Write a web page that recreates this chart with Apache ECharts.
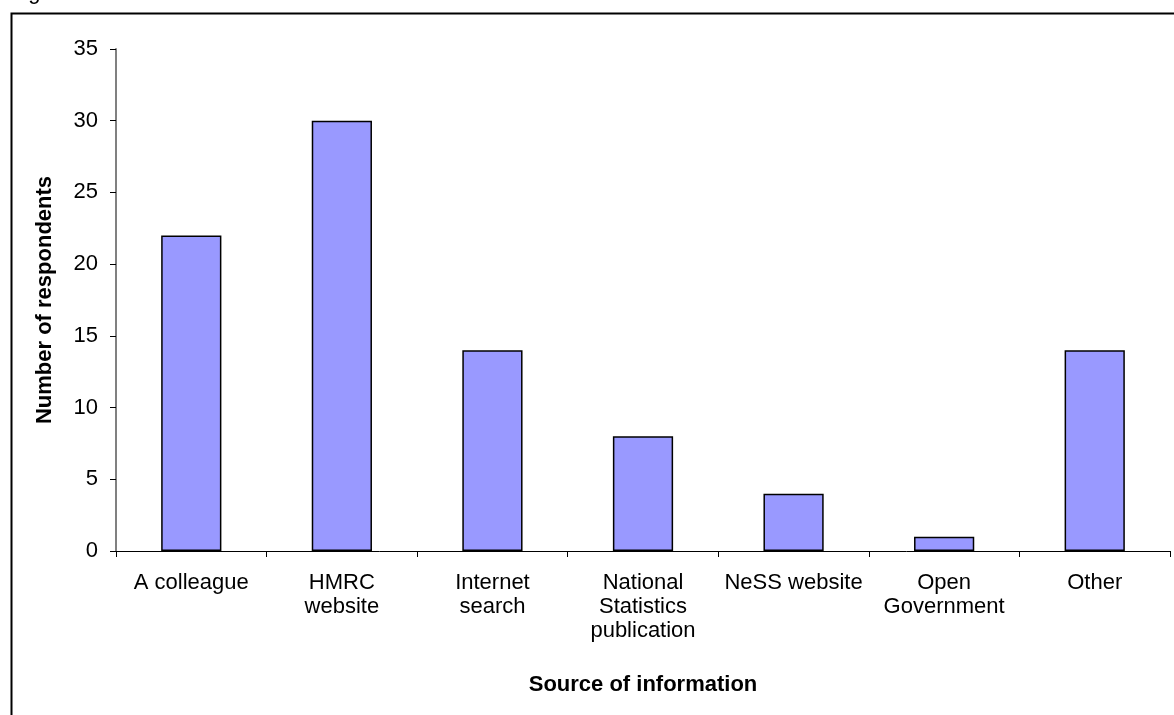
<!DOCTYPE html>
<html><head><meta charset="utf-8">
<script src="https://cdn.jsdelivr.net/npm/echarts@6/dist/echarts.min.js"></script>
<style>html,body{margin:0;padding:0;background:#fff}#c{width:1174px;height:715px}</style>
</head><body><div id="c"></div>
<script>
const categories = ["A colleague", "HMRC\nwebsite", "Internet\nsearch", "National\nStatistics\npublication", "NeSS website", "Open\nGovernment", "Other"];
const respondents = [22, 30, 14, 8, 4, 1, 14];
const yTicks = [0, 5, 10, 15, 20, 25, 30, 35];

const chart = echarts.init(document.getElementById('c'), null, {renderer: 'canvas'});
const font = 'Arial, "Liberation Sans", sans-serif';
chart.setOption({
  animation: false,
  backgroundColor: '#fff',
  graphic: [
    {type: 'rect', shape: {x: 11.5, y: 13.5, width: 1200, height: 800}, style: {fill: 'none', stroke: '#000', lineWidth: 2}, z: 0},
    {type: 'text', left: 10, top: -18, style: {text: 'Figure', font: '22px ' + font, fill: '#000'}}
  ],
  grid: {left: 116, right: 4, top: 49, bottom: 164, containLabel: false},
  xAxis: {
    type: 'category', data: categories,
    name: 'Source of information', nameLocation: 'middle', nameGap: 123,
    nameTextStyle: {fontFamily: font, fontSize: 22, fontWeight: 'bold', color: '#000'},
    axisLine: {lineStyle: {color: '#000', width: 1}},
    axisTick: {show: true, length: 6, inside: false, lineStyle: {color: '#000'}},
    axisLabel: {fontFamily: font, fontSize: 22, color: '#000', margin: 20, lineHeight: 24, interval: 0}
  },
  yAxis: {
    type: 'value', min: 0, max: 35, interval: 5,
    name: 'Number of respondents', nameLocation: 'middle', nameGap: 60,
    nameTextStyle: {fontFamily: font, fontSize: 22, fontWeight: 'bold', color: '#000'},
    axisLine: {show: true, lineStyle: {color: '#808080', width: 2}},
    axisTick: {show: true, length: 6, lineStyle: {color: '#000'}},
    splitLine: {show: false},
    axisLabel: {fontFamily: font, fontSize: 22, color: '#000', margin: 18,
      formatter: v => yTicks.includes(v) ? String(v) : ''}
  },
  series: [{
    type: 'bar', data: respondents, barWidth: '40%',
    itemStyle: {color: '#9999ff', borderColor: '#000', borderWidth: 1.5}
  }]
});
</script></body></html>
